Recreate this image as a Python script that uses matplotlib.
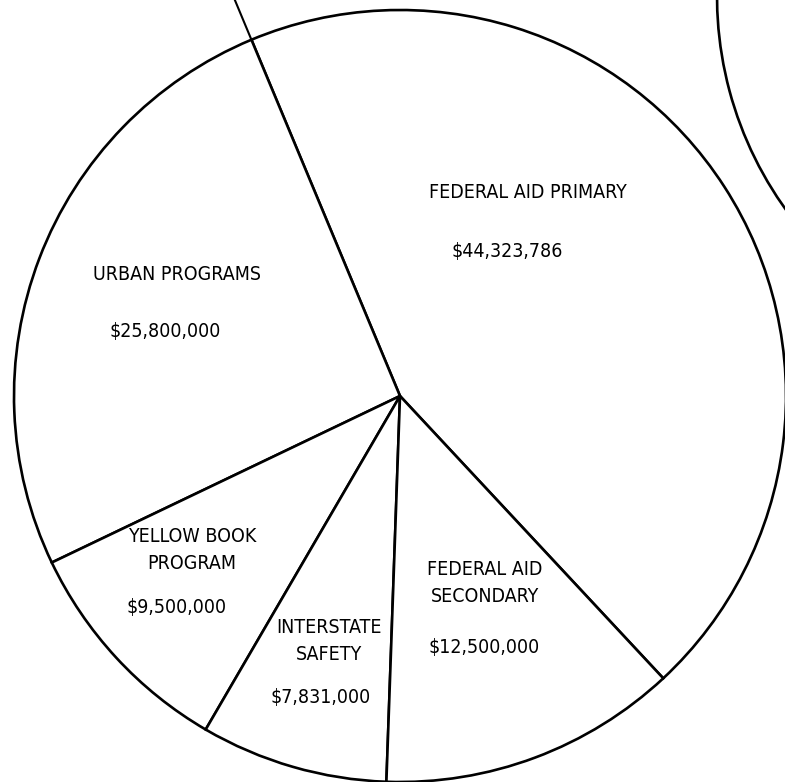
import numpy as np
import matplotlib
matplotlib.use("Agg")
import matplotlib.pyplot as plt
from matplotlib.patches import Arc

# ---- data ----
categories = ["FEDERAL AID PRIMARY", "URBAN PROGRAMS", "YELLOW BOOK\nPROGRAM",
              "INTERSTATE\nSAFETY", "FEDERAL AID\nSECONDARY"]
values = [44323786, 25800000, 9500000, 7831000, 12500000]
value_labels = ["$" + f"{v:,}" for v in values]

W, H = 785, 782
fig = plt.figure(figsize=(W / 100, H / 100), dpi=100)
ax = fig.add_axes([0, 0, 1, 1])

cx, cy, R = 400, H - 396, 386
wedges, _ = ax.pie(values, startangle=-47, counterclock=True, center=(cx, cy),
                   radius=R, frame=True,
                   wedgeprops=dict(facecolor="white", edgecolor="black", linewidth=1.9))

# extension of the top boundary beyond the circle
ang = np.deg2rad(wedges[0].theta2)
r_end = (H - cy) / np.sin(ang)
ax.plot([cx + R * np.cos(ang), cx + r_end * np.cos(ang)],
        [cy + R * np.sin(ang), H], color="black", lw=1.5)

# neighbouring circle partially visible at upper right
ax.add_patch(Arc((1083, H + 4), 2 * 366, 2 * 366, theta1=150, theta2=240,
                 color="black", lw=1.9))

font = dict(family=["DejaVu Sans"], fontstretch="condensed", fontsize=14,
            color="black", ha="center", va="center", linespacing=1.5)

name_pos = [(528, 192), (177, 275), (192, 550), (329, 641), (485, 583)]
val_pos = [(507, 252), (165, 332), (177, 607), (321, 697), (484, 647)]

for name, vl, (nx, ny), (vx, vy) in zip(categories, value_labels, name_pos, val_pos):
    ax.text(nx, H - ny, name, **font)
    ax.text(vx, H - vy, vl, **font)

ax.set_xlim(0, W)
ax.set_ylim(0, H)
ax.set_aspect("equal")
ax.axis("off")

fig.savefig("out.png", dpi=100, facecolor="white")
